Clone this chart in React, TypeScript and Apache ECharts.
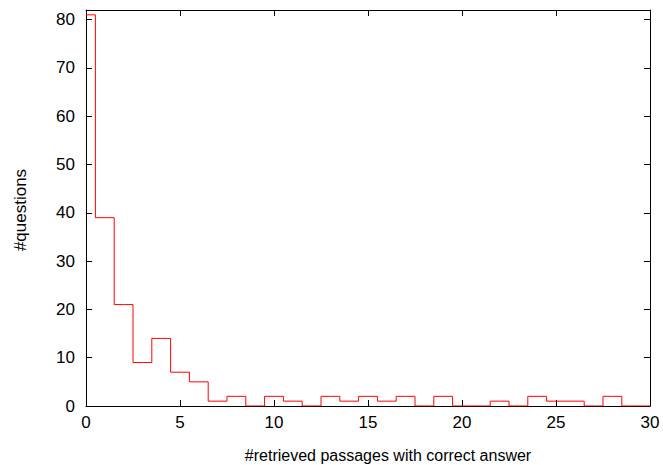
import React, { useEffect, useRef } from "react";
import * as echarts from "echarts";

// number of retrieved passages containing the correct answer (bin centre)
const passageCounts: number[] = [
  0, 1, 2, 3, 4, 5, 6, 7, 8, 9, 10, 11, 12, 13, 14, 15, 16, 17, 18, 19, 20,
  21, 22, 23, 24, 25, 26, 27, 28, 29, 30,
];
// number of questions per bin
const questionCounts: number[] = [
  81, 39, 21, 9, 14, 7, 5, 1, 2, 0, 2, 1, 0, 2, 1, 2, 1, 2, 0, 2, 0,
  0, 1, 0, 2, 1, 1, 0, 2, 0, 0,
];
const xTicks: number[] = [0, 5, 10, 15, 20, 25, 30];
const yTicks: number[] = [0, 10, 20, 30, 40, 50, 60, 70, 80];
const xTitle = "#retrieved passages with correct answer";
const yTitle = "#questions";

const FONT = "'Liberation Sans', Arial, Helvetica, sans-serif";

export default function App() {
  const ref = useRef<HTMLDivElement>(null);
  useEffect(() => {
    if (!ref.current) return;
    const chart = echarts.init(ref.current, undefined, { renderer: "svg" });
    const axisLine = { show: true, onZero: false, lineStyle: { color: "#000", width: 1 } };
    const tick = { show: true, inside: true, length: 6, lineStyle: { color: "#000", width: 1 } };
    const xCommon = {
      type: "value" as const,
      min: xTicks[0],
      max: xTicks[xTicks.length - 1],
      interval: 5,
      axisLine,
      axisTick: tick,
      splitLine: { show: false },
    };
    const yCommon = {
      type: "value" as const,
      min: 0,
      max: 82,
      interval: 10,
      axisLine,
      axisTick: tick,
      splitLine: { show: false },
    };
    chart.setOption({
      animation: false,
      backgroundColor: "#fff",
      grid: { left: 86, right: 13, top: 10, bottom: 59, containLabel: false },
      xAxis: [
        {
          ...xCommon,
          position: "bottom",
          axisLabel: { color: "#000", fontSize: 17, fontFamily: FONT, margin: 8 },
        },
        { ...xCommon, position: "top", axisLabel: { show: false } },
      ],
      yAxis: [
        {
          ...yCommon,
          position: "left",
          axisLabel: {
            color: "#000",
            fontSize: 17,
            fontFamily: FONT,
            margin: 11,
            formatter: (v: number) => (yTicks.includes(v) ? String(v) : ""),
          },
        },
        { ...yCommon, position: "right", axisLabel: { show: false } },
      ],
      series: [
        {
          type: "line",
          step: "middle",
          xAxisIndex: 0,
          yAxisIndex: 0,
          showSymbol: false,
          symbol: "none",
          data: passageCounts.map((x, i) => [x, questionCounts[i]]),
          lineStyle: { color: "#ff0000", width: 1 },
          z: 3,
        },
      ],
      graphic: [
        {
          type: "text",
          x: 20,
          y: 210,
          rotation: Math.PI / 2,
          style: {
            text: yTitle,
            fill: "#000",
            fontSize: 17,
            fontFamily: FONT,
            textAlign: "center",
            textVerticalAlign: "middle",
          },
        },
        {
          type: "text",
          x: 388,
          y: 455,
          style: {
            text: xTitle,
            fill: "#000",
            fontSize: 16,
            fontFamily: FONT,
            textAlign: "center",
            textVerticalAlign: "middle",
          },
        },
      ],
    });
    return () => chart.dispose();
  }, []);
  return (
    <div
      ref={ref}
      style={{ position: "fixed", left: 0, top: 0, width: 663, height: 465 }}
    />
  );
}
